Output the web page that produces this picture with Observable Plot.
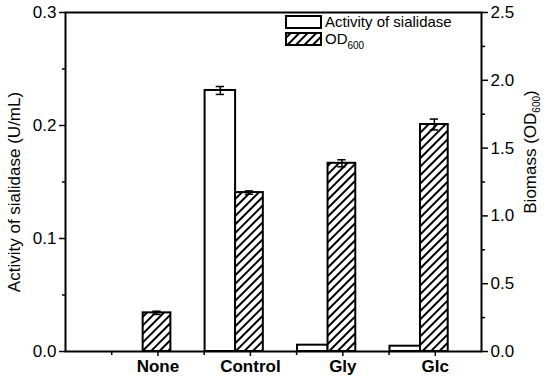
<!DOCTYPE html>
<html>
<head>
<meta charset="utf-8">
<script src="https://cdn.jsdelivr.net/npm/d3@7"></script>
<script src="https://cdn.jsdelivr.net/npm/@observablehq/plot@0.6"></script>
<style>
  html, body { margin: 0; padding: 0; background: white; }
  #chart { width: 550px; height: 380px; }
</style>
</head>
<body>
<div id="chart"></div>
<script>
// ---- data ----
const categories = ["None", "Control", "Gly", "Glc"];
const activity = [0.0, 0.231, 0.0056, 0.0047];       // U/mL (left axis)
const activityErr = [0, 0.0035, 0, 0];
const od600 = [0.285, 1.172, 1.388, 1.674];          // OD600 (right axis)
const od600Err = [0.012, 0.012, 0.026, 0.04];
const leftTicks = [0, 0.1, 0.2, 0.3];
const leftMinor = [0.05, 0.15, 0.25];
const rightTicks = [0, 0.5, 1.0, 1.5, 2.0, 2.5];
const rightMinor = [0.25, 0.75, 1.25, 1.75, 2.25];

const leftMax = 0.3, rightMax = 2.5;
const k = leftMax / rightMax; // OD -> left-axis units

const rows = categories.map((c, j) => ({
  i: j + 1, c,
  act: activity[j], actErr: activityErr[j],
  od: od600[j] * k, odErr: od600Err[j] * k
}));

const font = "'Liberation Sans', Arial, sans-serif";

const chart = Plot.plot({
  width: 550, height: 380,
  marginLeft: 65, marginRight: 69, marginTop: 12, marginBottom: 29,
  x: {domain: [0, 4.5]},
  y: {domain: [0, leftMax]},
  style: {fontFamily: font, fontSize: "17px", color: "black", background: "white"},
  marks: [
    // bars: activity (white)
    Plot.rect(rows, {x1: d => d.i - 0.49, x2: d => d.i - 0.16, y1: 0, y2: "act",
      fill: "white", stroke: "black", strokeWidth: 2}),
    // bars: OD600 (hatched)
    Plot.rect(rows, {x1: d => d.i - 0.16, x2: d => d.i + 0.14, y1: 0, y2: "od",
      fill: "url(#hatch)", stroke: "black", strokeWidth: 2}),
    // error bars activity
    Plot.ruleX(rows.filter(d => d.actErr > 0), {x: d => d.i - 0.325, y1: d => d.act - d.actErr, y2: d => d.act + d.actErr, strokeWidth: 1.5}),
    Plot.ruleY(rows.filter(d => d.actErr > 0), {y: d => d.act - d.actErr, x1: d => d.i - 0.37, x2: d => d.i - 0.28, strokeWidth: 1.5}),
    Plot.ruleY(rows.filter(d => d.actErr > 0), {y: d => d.act + d.actErr, x1: d => d.i - 0.37, x2: d => d.i - 0.28, strokeWidth: 1.5}),
    // error bars OD
    Plot.ruleX(rows, {x: d => d.i - 0.01, y1: d => d.od - d.odErr, y2: d => d.od + d.odErr, strokeWidth: 1.5}),
    Plot.ruleY(rows, {y: d => d.od - d.odErr, x1: d => d.i - 0.055, x2: d => d.i + 0.035, strokeWidth: 1.5}),
    Plot.ruleY(rows, {y: d => d.od + d.odErr, x1: d => d.i - 0.055, x2: d => d.i + 0.035, strokeWidth: 1.5}),
    // left axis
    Plot.axisY(leftTicks, {anchor: "left", tickSize: 6, tickPadding: 3, strokeWidth: 1.5,
      tickFormat: d => d.toFixed(1), fontSize: 17, label: null}),
    Plot.axisY(leftMinor, {anchor: "left", tickSize: 3, strokeWidth: 1.5, tickFormat: () => "", label: null}),
    // right axis (OD600)
    Plot.axisY(rightTicks.map(v => v * k), {anchor: "right", tickSize: 6, tickPadding: 3, strokeWidth: 1.5,
      tickFormat: d => (d / k).toFixed(1), fontSize: 17, label: null}),
    Plot.axisY(rightMinor.map(v => v * k), {anchor: "right", tickSize: 3, strokeWidth: 1.5, tickFormat: () => "", label: null}),
    // bottom axis
    Plot.axisX([1, 2, 3, 4], {anchor: "bottom", tickSize: 5, tickPadding: 3, strokeWidth: 1.5,
      tickFormat: i => categories[i - 1], fontSize: 17, fontWeight: "bold", label: null}),
    Plot.axisX([0.5, 1.5, 2.5, 3.5], {anchor: "bottom", tickSize: 4, strokeWidth: 1.5, tickFormat: () => "", label: null}),
    Plot.frame({stroke: "black", strokeWidth: 2})
  ]
});

document.getElementById("chart").appendChild(chart);

const svg = d3.select(chart);
svg.insert("defs", ":first-child").html(
  `<pattern id="hatch" patternUnits="userSpaceOnUse" width="6" height="6" patternTransform="rotate(45)">
     <rect width="6" height="6" fill="white"/>
     <line x1="1" y1="0" x2="1" y2="6" stroke="black" stroke-width="2"/>
   </pattern>`);

// axis titles
svg.append("text")
  .attr("transform", "translate(16,192) rotate(-90)")
  .attr("text-anchor", "middle").attr("dominant-baseline", "middle")
  .attr("font-family", font).attr("font-size", 17)
  .text("Activity of sialidase (U/mL)");

const rt = svg.append("text")
  .attr("transform", "translate(532,152) rotate(-90)")
  .attr("text-anchor", "middle").attr("dominant-baseline", "middle")
  .attr("font-family", font).attr("font-size", 17);
rt.append("tspan").text("Biomass (OD");
rt.append("tspan").attr("font-size", 10).attr("dy", 5).text("600");
rt.append("tspan").attr("dy", -5).text(")");

// legend
const lg = svg.append("g").attr("font-family", font).attr("font-size", 15).attr("text-anchor", "start");
lg.append("rect").attr("x", 286).attr("y", 16).attr("width", 35).attr("height", 12)
  .attr("fill", "white").attr("stroke", "black").attr("stroke-width", 2);
lg.append("rect").attr("x", 286).attr("y", 33).attr("width", 35).attr("height", 12)
  .attr("fill", "url(#hatch)").attr("stroke", "black").attr("stroke-width", 2);
lg.append("text").attr("x", 325).attr("y", 27).text("Activity of sialidase");
const t2 = lg.append("text").attr("x", 325).attr("y", 44);
t2.append("tspan").text("OD");
t2.append("tspan").attr("font-size", 10).attr("dy", 5).text("600");
</script>
</body>
</html>
